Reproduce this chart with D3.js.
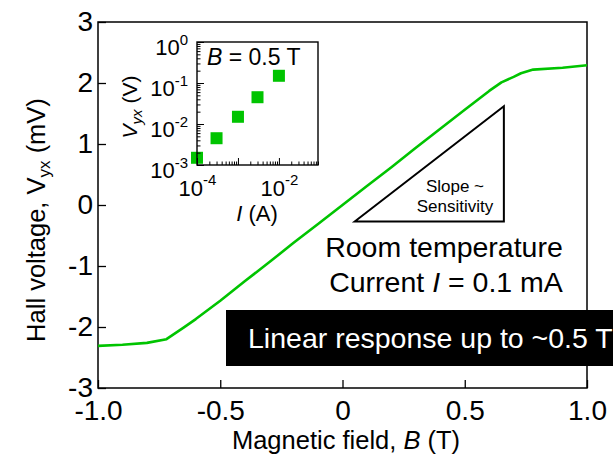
<!DOCTYPE html>
<html>
<head>
<meta charset="utf-8">
<script src="https://cdn.jsdelivr.net/npm/d3@7"></script>
<style>
  html, body { margin: 0; padding: 0; background: #fff; }
  svg { display: block; font-family: "Liberation Sans", Arial, sans-serif; }
</style>
</head>
<body>
<svg id="chart" width="613" height="460"></svg>
<script>
// ---- Data ----
const fieldB = [-1.0, -0.9, -0.8, -0.72, -0.65, -0.6, -0.5, -0.4, -0.3, -0.2, -0.1, 0, 0.1, 0.2, 0.3, 0.4, 0.5, 0.6, 0.65, 0.7, 0.73, 0.78, 0.9, 1.0];
const hallV  = [-2.31, -2.29, -2.26, -2.20, -2.01, -1.87, -1.57, -1.25, -0.94, -0.62, -0.31, 0, 0.31, 0.62, 0.94, 1.25, 1.56, 1.87, 2.01, 2.10, 2.16, 2.22, 2.25, 2.29];
const xTicks = [-1.0, -0.5, 0, 0.5, 1.0];
const yTicks = [-3, -2, -1, 0, 1, 2, 3];

const insetI = [1e-4, 3e-4, 1e-3, 3e-3, 1e-2];
const insetV = [0.0015, 0.0045, 0.015, 0.045, 0.15];
const insetXMajor = [1e-4, 1e-3, 1e-2];
const insetXLabeled = [1e-4, 1e-2];
const insetYMajor = [1e-3, 1e-2, 1e-1, 1];

(function () {
// ---- Setup ----
const svg = d3.select("#chart");
const GREEN = "#00c400";
const FONT = "Liberation Sans, Arial, sans-serif";
const pL = 98, pR = 587, pT = 22, pB = 388;
const x = d3.scaleLinear().domain([-1, 1]).range([pL, pR]);
const y = d3.scaleLinear().domain([-3, 3]).range([pB, pT]);

// Main frame
svg.append("rect").attr("x", pL).attr("y", pT).attr("width", pR - pL).attr("height", pB - pT)
  .attr("fill", "none").attr("stroke", "#000").attr("stroke-width", 1.5);

const fmtX = d => d === 0 ? "0" : d.toFixed(1);
const gx = svg.append("g").attr("transform", `translate(0,${pB})`)
  .call(d3.axisBottom(x).tickValues(xTicks).tickSize(-8).tickPadding(12).tickFormat(fmtX));
gx.select(".domain").remove();
gx.selectAll(".tick line").attr("stroke-width", 1.3);
gx.selectAll(".tick text").attr("font-size", 28).attr("font-family", FONT).attr("fill", "#000");

const gy = svg.append("g").attr("transform", `translate(${pL},0)`)
  .call(d3.axisLeft(y).tickValues(yTicks).tickSize(-8).tickPadding(5).tickFormat(d => String(d)));
gy.select(".domain").remove();
gy.selectAll(".tick line").attr("stroke-width", 1.3);
gy.selectAll(".tick text").attr("font-size", 28).attr("font-family", FONT).attr("fill", "#000");

// Curve
const line = d3.line().x((d, i) => x(fieldB[i])).y(d => y(d));
svg.append("path").datum(hallV).attr("d", line).attr("fill", "none")
  .attr("stroke", GREEN).attr("stroke-width", 2.6).attr("stroke-linejoin", "round");

// Axis titles
const xt = svg.append("text").attr("x", 346).attr("y", 449).attr("text-anchor", "middle").attr("font-size", 25.5);
xt.append("tspan").text("Magnetic field, ");
xt.append("tspan").attr("font-style", "italic").text("B");
xt.append("tspan").text(" (T)");

const yt = svg.append("text").attr("transform", "translate(45,220) rotate(-90)").attr("text-anchor", "middle").attr("font-size", 25.5);
yt.append("tspan").text("Hall voltage,  V");
yt.append("tspan").attr("font-size", 17).attr("dy", 5).text("yx");
yt.append("tspan").attr("dy", -5).text(" (mV)");

// ---- Inset ----
const iL = 197, iR = 318, iT = 42, iB = 165;
const xi = d3.scaleLog().domain([1e-4, 0.09]).range([iL, iR]);
const yi = d3.scaleLog().domain([1e-3, 1]).range([iB, iT]);

svg.append("rect").attr("x", iL).attr("y", iT).attr("width", iR - iL).attr("height", iB - iT).attr("fill", "#fff");

svg.append("g").selectAll("rect").data(insetI).join("rect")
  .attr("x", (d) => xi(d) - 6).attr("y", (d, i) => yi(insetV[i]) - 6)
  .attr("width", 12).attr("height", 12).attr("fill", GREEN);

svg.append("rect").attr("x", iL).attr("y", iT).attr("width", iR - iL).attr("height", iB - iT)
  .attr("fill", "none").attr("stroke", "#000").attr("stroke-width", 1.4);

function minors(lo, hi) {
  const out = [];
  for (let e = lo; e < hi; e++) for (let m = 2; m <= 9; m++) out.push(m * Math.pow(10, e));
  return out;
}
const xMinor = minors(-4, -1).filter(v => v <= 0.09);
const yMinor = minors(-3, 0);

const gxiMinor = svg.append("g").attr("transform", `translate(0,${iB})`)
  .call(d3.axisBottom(xi).tickValues(xMinor).tickSize(-3.5).tickFormat(() => ""));
gxiMinor.select(".domain").remove();
const gxiMajor = svg.append("g").attr("transform", `translate(0,${iB})`)
  .call(d3.axisBottom(xi).tickValues(insetXMajor).tickSize(-7).tickPadding(31).tickFormat(() => ""));
gxiMajor.select(".domain").remove();
gxiMajor.selectAll(".tick").filter(d => insetXLabeled.includes(d)).select("text")
  .attr("dy", 0).attr("font-size", 22).attr("fill", "#000").attr("font-family", FONT)
  .each(function(d) {
    const t = d3.select(this);
    t.append("tspan").text("10");
    t.append("tspan").attr("font-size", 15).attr("dy", -11).text(Math.round(Math.log10(d)));
  });

const gyiMinor = svg.append("g").attr("transform", `translate(${iL},0)`)
  .call(d3.axisLeft(yi).tickValues(yMinor).tickSize(-3.5).tickFormat(() => ""));
gyiMinor.select(".domain").remove();
const gyiMajor = svg.append("g").attr("transform", `translate(${iL},0)`)
  .call(d3.axisLeft(yi).tickValues(insetYMajor).tickSize(-7).tickPadding(9).tickFormat(() => ""));
gyiMajor.select(".domain").remove();
gyiMajor.selectAll(".tick text")
  .attr("dy", 12).attr("font-size", 22).attr("fill", "#000").attr("font-family", FONT)
  .each(function(d) {
    const t = d3.select(this);
    t.append("tspan").text("10");
    t.append("tspan").attr("font-size", 15).attr("dy", -10).text(Math.round(Math.log10(d)));
  });

// Inset titles
const ixt = svg.append("text").attr("x", 257).attr("y", 221).attr("text-anchor", "middle").attr("font-size", 22);
ixt.append("tspan").attr("font-style", "italic").text("I");
ixt.append("tspan").text(" (A)");

const iyt = svg.append("text").attr("transform", "translate(137,107) rotate(-90)").attr("text-anchor", "middle").attr("font-size", 21);
iyt.append("tspan").attr("font-style", "italic").text("V");
iyt.append("tspan").attr("font-size", 15).attr("dy", 5).attr("font-style", "italic").text("yx");
iyt.append("tspan").attr("dy", -5).text(" (V)");

const bt = svg.append("text").attr("x", 207).attr("y", 65).attr("font-size", 23);
bt.append("tspan").attr("font-style", "italic").text("B");
bt.append("tspan").text(" = 0.5 T");

// ---- Annotations ----
const tri = [[0.05, -0.27], [0.66, 1.62], [0.66, -0.27]];
svg.append("path").attr("d", "M" + tri.map(p => [x(p[0]), y(p[1])].join(",")).join("L") + "Z")
  .attr("fill", "none").attr("stroke", "#000").attr("stroke-width", 2);

svg.append("text").attr("x", 455).attr("y", 192).attr("text-anchor", "middle").attr("font-size", 17).text("Slope ~");
svg.append("text").attr("x", 455).attr("y", 212).attr("text-anchor", "middle").attr("font-size", 17).text("Sensitivity");

svg.append("text").attr("x", 444).attr("y", 257).attr("text-anchor", "middle").attr("font-size", 28.5).text("Room temperature");
const ct = svg.append("text").attr("x", 446).attr("y", 292).attr("text-anchor", "middle").attr("font-size", 28.5);
ct.append("tspan").text("Current ");
ct.append("tspan").attr("font-style", "italic").text("I");
ct.append("tspan").text(" = 0.1 mA");

svg.append("rect").attr("x", 226).attr("y", 310).attr("width", 420).attr("height", 56).attr("fill", "#000");
svg.append("text").attr("x", 248).attr("y", 348).attr("font-size", 28.5).attr("fill", "#fff").text("Linear response up to ~0.5 T");
})();
</script>
</body>
</html>
